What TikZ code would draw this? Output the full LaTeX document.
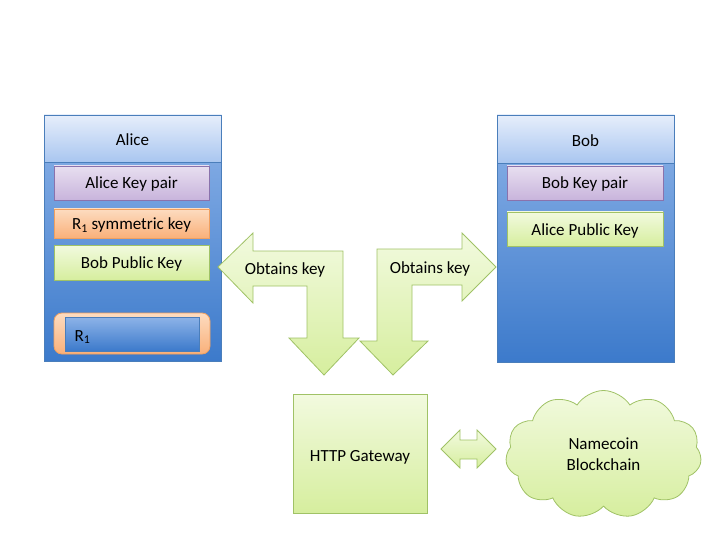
\documentclass[tikz,border=0pt]{standalone}
\usepackage{fontspec}
\setmainfont{Carlito}
\usetikzlibrary{shapes.symbols}
\definecolor{bluebd}{HTML}{4A7EBB}
\definecolor{bluetop}{HTML}{8DB3E8}
\definecolor{bluebot}{HTML}{3C7ACB}
\definecolor{headtop}{HTML}{E6EEFB}
\definecolor{headbot}{HTML}{A9C6F0}
\definecolor{purptop}{HTML}{E8DFF0}
\definecolor{purpbot}{HTML}{C8B4DC}
\definecolor{purpbd}{HTML}{8A72AC}
\definecolor{orgtop}{HTML}{FDDCC0}
\definecolor{orgbot}{HTML}{F9B07A}
\definecolor{orgbd}{HTML}{F0A060}
\definecolor{grntop}{HTML}{F2FADF}
\definecolor{grnbot}{HTML}{D6EE9E}
\definecolor{grnbd}{HTML}{A0C266}
\tikzset{
  x=1pt, y=-1pt,
  txt/.style={font=\fontsize{17}{20}\selectfont, text=black},
  panel/.style={draw=bluebd, line width=0.8pt, top color=bluetop, bottom color=bluebot},
  header/.style={draw=bluebd, line width=0.8pt, top color=headtop, bottom color=headbot},
  purpbox/.style={draw=purpbd, line width=0.8pt, top color=purptop, bottom color=purpbot},
  orgbox/.style={draw=orgbd, line width=0.8pt, top color=orgtop, bottom color=orgbot},
  grnbox/.style={draw=grnbd, line width=0.8pt, top color=grntop, bottom color=grnbot},
  grnarrow/.style={draw=grnbd, line width=0.8pt, top color=grntop, bottom color=grnbot, line join=miter},
}
\begin{document}
\begin{tikzpicture}
\useasboundingbox (0,0) rectangle (720,540);
% Alice panel
\path[panel] (44,115) rectangle (221,361);
\path[header] (44,115) rectangle (221,162);
\node[txt] (alice) at (132.5,140) {Alice};
\path[purpbox] (54,166) rectangle (209,200);
\node[txt] (akp) at (131.5,184) {Alice Key pair};
\path[orgbox] (54,209) rectangle (209,238);
\node[txt] (r1k) at (131.5,225) {R\textsubscript{1} symmetric key};
\path[grnbox] (54,245) rectangle (209,280);
\node[txt] (bpk) at (131.5,264) {Bob Public Key};
\path[orgbox, rounded corners=8pt] (54,313) rectangle (210,354);
\path[panel] (65,317) rectangle (199,351);
\node[txt, anchor=west] (r1) at (71,337) {R\textsubscript{1}};
% Bob panel
\path[panel] (497,115) rectangle (674,362);
\path[header] (497,115) rectangle (674,163);
\node[txt] (bob) at (585.5,141) {Bob};
\path[purpbox] (507,166) rectangle (663,200);
\node[txt] (bkp) at (585,184) {Bob Key pair};
\path[grnbox] (507,212) rectangle (663,246);
\node[txt] (apk) at (585,231) {Alice Public Key};
% bent arrows
\path[grnarrow] (218,267) -- (253,233) -- (253,251) -- (343,251) -- (343,338) -- (359,338) -- (324,375) -- (289,338) -- (307,338) -- (307,286) -- (253,286) -- (253,303) -- cycle;
\node[txt] (ob1) at (285,270) {Obtains key};
\path[grnarrow] (496,267) -- (462,233) -- (462,249) -- (377,249) -- (377,341) -- (360,341) -- (393,375) -- (428,341) -- (412,341) -- (412,285) -- (462,285) -- (462,301) -- cycle;
\node[txt] (ob2) at (430,269) {Obtains key};
% gateway
\path[grnbox] (293,394) rectangle (427,513);
\node[txt] (gw) at (360,457) {HTTP Gateway};
% double arrow
\path[grnarrow] (441,449) -- (460,430) -- (460,440) -- (477,440) -- (477,430) -- (496,449) -- (477,468) -- (477,459) -- (460,459) -- (460,468) -- cycle;
% cloud
\node[cloud, cloud puffs=11, cloud puff arc=115, aspect=1.6, draw=grnbd, line width=0.8pt, top color=grntop, bottom color=grnbot,
  minimum width=196pt, minimum height=128pt, inner sep=0pt, txt, align=center] (nc) at (603.5,454.5) {Namecoin\\[1pt]Blockchain};
\end{tikzpicture}
\end{document}
